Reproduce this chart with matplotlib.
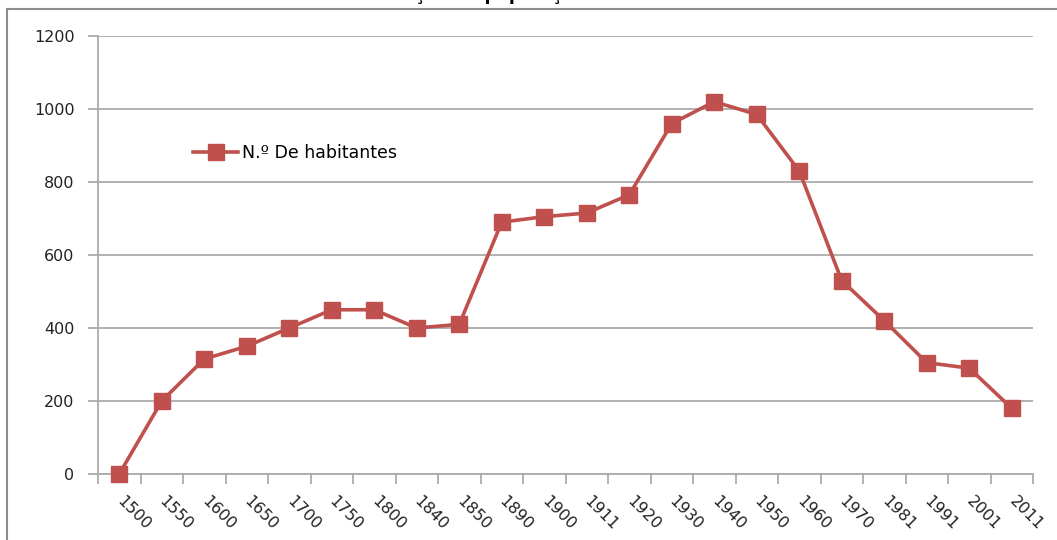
import matplotlib
matplotlib.use("Agg")
import matplotlib.pyplot as plt
from matplotlib.lines import Line2D
from matplotlib.ticker import FixedLocator, NullFormatter

# --- Data ---
years = ["1500", "1550", "1600", "1650", "1700", "1750", "1800", "1840", "1850",
         "1890", "1900", "1911", "1920", "1930", "1940", "1950", "1960", "1970",
         "1981", "1991", "2001", "2011"]
habitantes = [0, 200, 315, 350, 400, 450, 450, 400, 410,
              690, 705, 715, 765, 960, 1020, 985, 830, 530,
              420, 305, 290, 180]

SERIES_LABEL = "N.º De habitantes"
TITLE = "Gráfico 1 - Evolução da população desde 1500 até 2011"
RED = "#C0504D"
GRID = "#ABABAB"

plt.rcParams.update({"font.family": "DejaVu Sans", "font.size": 11})

W, H = 1057, 540
fig = plt.figure(figsize=(W / 100, H / 100), dpi=100)

# axes placed in pixel terms
ax = fig.add_axes([98 / W, 1 - 474 / H, (1033 - 98) / W, (474 - 36) / H])

x = list(range(len(years)))
ax.plot(x, habitantes, color=RED, lw=2.6, marker="s", markersize=11,
        markeredgecolor=RED, label=SERIES_LABEL, clip_on=False, zorder=3)

ax.set_xlim(-0.5, len(years) - 0.5)
ax.set_ylim(0, 1200)
ax.set_yticks(range(0, 1201, 200))
ax.yaxis.grid(True, color=GRID, lw=1.3)
ax.set_axisbelow(True)

for s in ["top", "right"]:
    ax.spines[s].set_visible(False)
for s in ["left", "bottom"]:
    ax.spines[s].set_color(GRID)
    ax.spines[s].set_linewidth(1.3)

ax.tick_params(axis="y", length=7, width=1.3, color=GRID, pad=10,
               labelcolor="#222222", labelsize=11.5)

# category labels centred, tick marks on the boundaries
ax.set_xticks(x)
ax.set_xticklabels(years, rotation=-45, ha="left", va="center",
                   rotation_mode="anchor", color="#222222", fontsize=11.5)
ax.tick_params(axis="x", which="major", length=0, pad=18)
ax.xaxis.set_minor_locator(FixedLocator([i - 0.5 for i in range(len(years) + 1)]))
ax.xaxis.set_minor_formatter(NullFormatter())
ax.tick_params(axis="x", which="minor", length=7, width=1.3, color=GRID)

ax.legend(loc="upper left", bbox_to_anchor=(0.085, 0.79), frameon=False,
          handlelength=2.6, handletextpad=0.2, fontsize=12.5)

# chart-area frame, partly visible
fig.add_artist(Line2D([7 / W, 1], [1 - 9 / H, 1 - 9 / H], transform=fig.transFigure,
                      color="#8C8C8C", lw=1.5))
fig.add_artist(Line2D([7 / W, 7 / W], [0, 1 - 9 / H], transform=fig.transFigure,
                      color="#8C8C8C", lw=1.5))

# title, mostly cut off by the top of the image (as in the reference)
fig.text(525 / W, 1.0, TITLE, ha="center", va="baseline",
         fontsize=12.5, fontweight="bold")

fig.savefig("out.png", dpi=100, facecolor="white")
